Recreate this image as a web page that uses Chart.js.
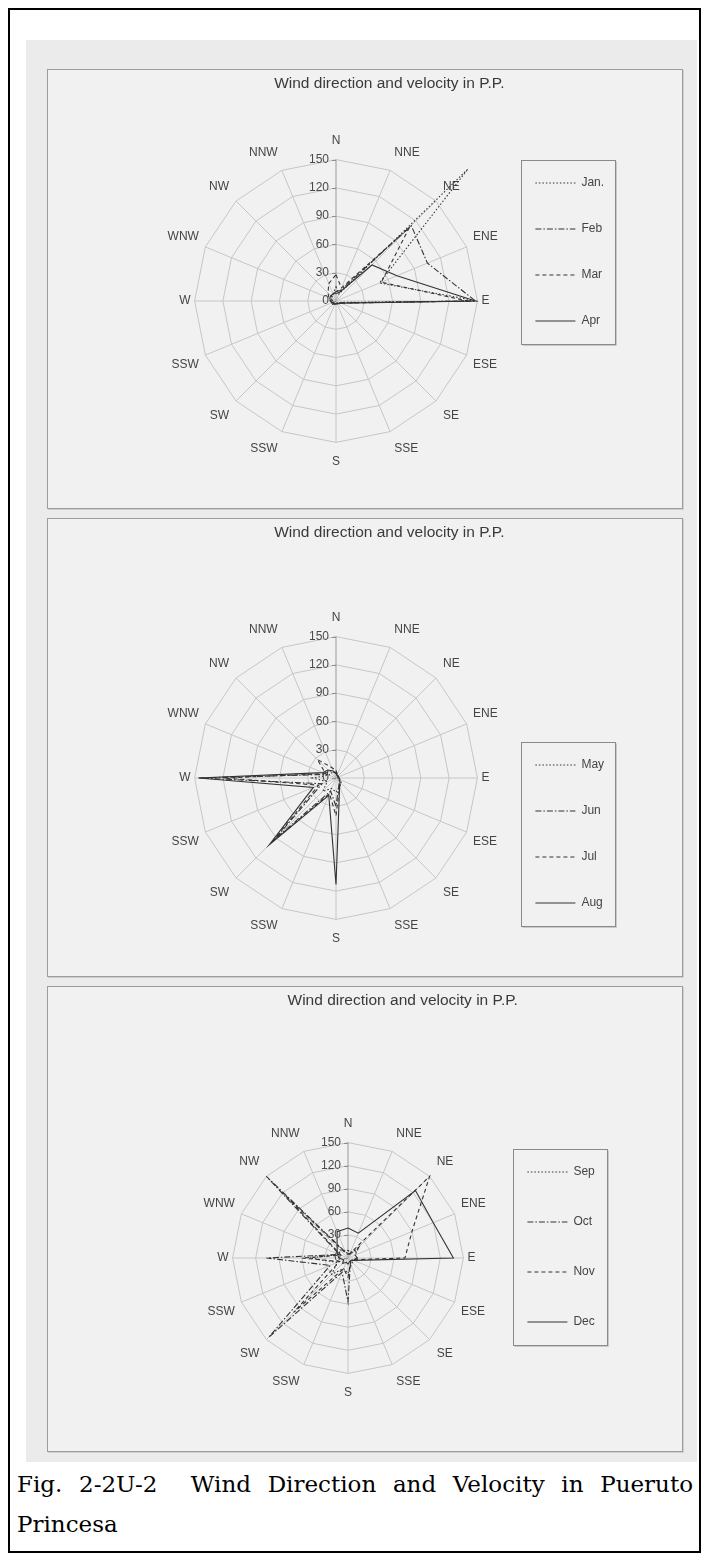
<!DOCTYPE html>
<html>
<head>
<meta charset="utf-8">
<title>Wind direction and velocity in P.P.</title>
<script src="https://cdn.jsdelivr.net/npm/chart.js@4.4.1/dist/chart.umd.min.js"></script>
<style>
  html, body { margin: 0; padding: 0; background: #ffffff; }
  body { width: 709px; height: 1560px; position: relative; overflow: hidden; }
  #frame { position: absolute; left: 8px; top: 8px; width: 689px; height: 1541px; border: 2px solid #000; }
  #sheet { position: absolute; left: 26px; top: 40px; width: 671px; height: 1422px; background: #ebebeb; }
  .panel { position: absolute; left: 47px; width: 634px; border: 1px solid #9c9c9c; background: #f1f1f1;
           box-shadow: 1px 1px 0 #cfcfcf; }
  .panel canvas { position: absolute; left: 0; top: 0; }
  #caption { position: absolute; left: 17px; top: 1464px; width: 676px; margin: 0;
             font-family: "DejaVu Serif", "Liberation Serif", serif; font-size: 23px; line-height: 40px;
             text-align: justify; color: #000; }
</style>
</head>
<body>
<div id="frame"></div>
<div id="sheet"></div>
<div class="panel" style="top:69px;height:438px"><canvas id="c1" width="634" height="438"></canvas></div>
<div class="panel" style="top:518px;height:457px"><canvas id="c2" width="634" height="457"></canvas></div>
<div class="panel" style="top:986px;height:464px"><canvas id="c3" width="634" height="464"></canvas></div>
<p id="caption">Fig. 2-2U-2&nbsp; Wind Direction and Velocity in Pueruto Princesa</p>

<script>
// 16 compass directions, clockwise from north (the WSW spoke carries the label "SSW")
const directions = ['N', 'NNE', 'NE', 'ENE', 'E', 'ESE', 'SE', 'SSE',
                    'S', 'SSW', 'SW', 'SSW', 'W', 'WNW', 'NW', 'NNW'];
const tickValues = [0, 30, 60, 90, 120, 150];
const chartTitle = 'Wind direction and velocity in P.P.';

// January - April
const monthsA = ['Jan.', 'Feb', 'Mar', 'Apr'];
const jan = [15, 8, 198, 50, 150, 4, 3, 2, 2, 2, 3, 3, 4, 5, 6, 8];
const feb = [10, 12, 113, 105, 148, 5, 3, 2, 3, 3, 4, 3, 4, 5, 7, 8];
const mar = [28, 15, 110, 52, 140, 6, 4, 3, 3, 4, 5, 4, 6, 8, 12, 20];
const apr = [8, 10, 54, 70, 148, 6, 4, 3, 3, 3, 5, 5, 6, 7, 8, 8];

// May - August
const monthsB = ['May', 'Jun', 'Jul', 'Aug'];
const may = [6, 4, 3, 3, 3, 5, 8, 10, 15, 12, 20, 10, 25, 8, 8, 6];
const jun = [5, 3, 3, 2, 2, 3, 5, 8, 30, 15, 92, 16, 146, 10, 12, 7];
const jul = [8, 4, 3, 3, 3, 4, 6, 10, 40, 18, 97, 20, 119, 12, 28, 12];
const aug = [5, 3, 3, 3, 3, 4, 6, 10, 113, 20, 100, 26, 146, 15, 12, 8];

// September - December
const monthsC = ['Sep', 'Oct', 'Nov', 'Dec'];
const sep = [10, 8, 15, 10, 12, 8, 8, 10, 20, 15, 30, 15, 50, 12, 15, 10];
const oct = [6, 5, 20, 10, 12, 6, 6, 8, 57, 20, 146, 25, 106, 12, 150, 8];
const nov = [5, 6, 150, 90, 74, 6, 5, 8, 25, 15, 100, 12, 60, 10, 120, 6];
const dec = [39, 35, 124, 120, 137, 8, 5, 5, 8, 6, 10, 6, 12, 15, 20, 37];

// dotted, dash-dot, dashed, solid
const lineDashes = [[1.5, 2], [6, 2, 1.5, 2], [4, 3], []];
const lineColor = '#333333';

const FONT = '"Liberation Sans", Arial, Helvetica, sans-serif';
Chart.defaults.font.family = FONT;
Chart.defaults.color = '#444';

// value labels and small tick marks along the north spoke
const radialTickText = {
  id: 'radialTickText',
  afterDatasetsDraw(chart) {
    const s = chart.scales.r;
    const ctx = chart.ctx;
    ctx.save();
    ctx.font = '12px ' + FONT;
    ctx.fillStyle = '#4a4a4a';
    ctx.strokeStyle = '#8f8f8f';
    ctx.lineWidth = 1;
    ctx.textAlign = 'right';
    ctx.textBaseline = 'middle';
    tickValues.forEach(v => {
      const p = s.getPointPositionForValue(0, v);
      const y = Math.round(p.y) + 0.5;
      ctx.beginPath();
      ctx.moveTo(p.x - 4, y);
      ctx.lineTo(p.x, y);
      ctx.stroke();
      ctx.fillText(String(v), p.x - 7, p.y);
    });
    ctx.restore();
  }
};

// thin frame around the legend entries
const legendFrame = {
  id: 'legendFrame',
  afterDraw(chart) {
    const boxes = chart.legend && chart.legend.legendHitBoxes;
    if (!boxes || !boxes.length) return;
    const first = boxes[0], last = boxes[boxes.length - 1];
    const x0 = Math.round(first.left - 14) + 0.5;
    const x1 = Math.round(first.left + 80) + 0.5;
    const y0 = Math.round(first.top + first.height / 2 - 23) + 0.5;
    const y1 = Math.round(last.top + last.height / 2 + 23) + 0.5;
    const ctx = chart.ctx;
    ctx.save();
    ctx.lineWidth = 1;
    ctx.strokeStyle = '#c9c9c9';
    ctx.beginPath();
    ctx.moveTo(x1 + 1, y0 + 1); ctx.lineTo(x1 + 1, y1 + 1); ctx.lineTo(x0 + 1, y1 + 1);
    ctx.stroke();
    ctx.strokeStyle = '#8a8a8a';
    ctx.strokeRect(x0, y0, x1 - x0, y1 - y0);
    ctx.restore();
  }
};

function measureLegendText(labels) {
  const ctx = document.createElement('canvas').getContext('2d');
  ctx.font = '12px ' + FONT;
  return Math.max(...labels.map(t => ctx.measureText(t).width));
}

// legend samples carry the dash pattern of their series
function dashedLegendLabels(chart) {
  const items = Chart.defaults.plugins.legend.labels.generateLabels(chart);
  items.forEach(item => {
    const ds = chart.data.datasets[item.datasetIndex];
    item.lineDash = ds.borderDash;
    item.strokeStyle = ds.borderColor;
    item.fillStyle = 'rgba(0,0,0,0)';
    item.lineWidth = 1;
    item.pointStyle = 'line';
  });
  return items;
}

// compass labels sit further out above/below the rose than at its sides
function pointLabelPadding(ctx) {
  const angle = ctx.index * 2 * Math.PI / directions.length;
  return Math.round(4 + 8 * Math.abs(Math.cos(angle)));
}

function buildRadar(id, months, series, g) {
  const canvas = document.getElementById(id);
  const colWidth = 40 + 6 + measureLegendText(months);
  const legendWidth = g.legendGap + colWidth + 10;
  const padRight = canvas.width - g.legendLeft - legendWidth;

  return new Chart(canvas, {
    type: 'radar',
    data: {
      labels: directions,
      datasets: months.map((m, i) => ({
        label: m,
        data: series[i],
        borderColor: lineColor,
        backgroundColor: 'rgba(0,0,0,0)',
        borderWidth: 1.1,
        borderDash: lineDashes[i],
        pointRadius: 0,
        pointHoverRadius: 0,
        fill: false,
        tension: 0,
        clip: false
      }))
    },
    options: {
      responsive: false,
      animation: false,
      devicePixelRatio: 1,
      layout: { padding: { left: g.padLeft, right: padRight, top: 0, bottom: g.padBottom } },
      scales: {
        r: {
          min: 0,
          max: 150,
          ticks: { display: false, stepSize: 30 },
          grid: { color: '#c6c6c6', lineWidth: 1 },
          angleLines: { color: (c) => (c.index === 0 ? '#9a9a9a' : '#c6c6c6'), lineWidth: 1 },
          pointLabels: { font: { size: 12 }, color: '#444', padding: pointLabelPadding }
        }
      },
      plugins: {
        title: {
          display: true,
          text: chartTitle,
          color: '#3a3a3a',
          font: { size: 15.5, weight: 'normal' },
          padding: { top: 4.7, bottom: g.titleBottom }
        },
        legend: {
          position: 'right',
          align: 'start',
          fullSize: false,
          title: { display: true, text: ' ', font: { size: 1 }, padding: { top: g.legendShift, bottom: 0 } },
          labels: {
            usePointStyle: true,
            pointStyle: 'line',
            pointStyleWidth: 40,
            boxWidth: 40,
            padding: g.legendGap,
            color: '#444',
            font: { size: 12 },
            generateLabels: dashedLegendLabels
          }
        },
        tooltip: { enabled: false }
      }
    },
    plugins: [radialTickText, legendFrame]
  });
}

buildRadar('c1', monthsA, [jan, feb, mar, apr],
  { padLeft: 116.6, padBottom: 37.6, legendLeft: 453.4, legendGap: 34, legendShift: 8.2, titleBottom: 40.3 });
buildRadar('c2', monthsB, [may, jun, jul, aug],
  { padLeft: 116.6, padBottom: 29.6, legendLeft: 453.4, legendGap: 34, legendShift: 114.2, titleBottom: 67.3 });
buildRadar('c3', monthsC, [sep, oct, nov, dec],
  { padLeft: 152.6, padBottom: 48.6, legendLeft: 441.4, legendGap: 38, legendShift: 13.2, titleBottom: 103.3 });
</script>
</body>
</html>
